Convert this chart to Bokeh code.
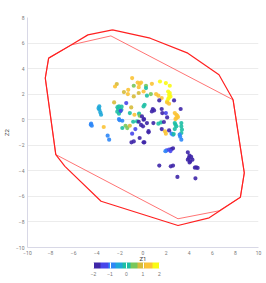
from bokeh.plotting import figure
from bokeh.models import (ColumnDataSource, LinearColorMapper, ColorBar, FixedTicker,
                          Label, Range1d)
from bokeh.embed import file_html
from bokeh.resources import INLINE

# ---------------- data ----------------
x_ticks = [-10, -8, -6, -4, -2, 0, 2, 4, 6, 8, 10]
y_ticks = [-10, -8, -6, -4, -2, 0, 2, 4, 6, 8]
cbar_ticks = [-2, -1, 0, 1, 2]

hull_outer_x = [-2.64, -4.77, -6.19, -8.17, -8.46, -7.55, -6.76, -3.63, 3.03, 5.73, 8.43, 8.77, 7.80, 6.58, 3.88, 0.62, -2.64]
hull_outer_y = [7.03, 6.64, 5.86, 4.82, 3.26, -2.73, -3.65, -6.38, -8.28, -7.68, -6.07, -4.16, 1.56, 3.52, 5.21, 6.38, 7.03]

hull_inner_x = [-6.19, -2.78, 7.80, 8.77, 8.43, 6.58, 3.03, -7.55, -8.46, -8.17, -6.19]
hull_inner_y = [5.86, 6.56, 1.56, -4.16, -6.07, -7.13, -7.75, -2.73, 3.26, 4.82, 5.86]

z1 = [-0.94, -2.27, -2.42, -0.80, -0.46, -0.29, -0.17, 0.26, 0.26, -0.37, 0.77, 1.47, 1.98, 2.32,
      -1.28, -1.65, -1.31, -0.80, 0.05, -0.37, 0.34, 0.68, 1.13, 1.33,
      2.18, 2.26, 2.38, 2.18, 2.09, 2.32, 2.24,
      1.62, 2.09, 2.26, 1.41, 2.69, -2.50, -1.45,
      -2.08, -2.16, -1.99, -2.08, -1.87, -2.21, -1.85, -2.23, -1.93,
      -1.02, -0.74, -1.14, -0.34, -0.29, 0.05, 0.14,
      0.85, 0.96, 0.77, -0.09, 0.05, -0.85, -0.51, -0.37, 0.34, -0.17, 0.00, 0.48,
      0.90, 1.33, 1.56, 1.81, 1.98, 2.09,
      2.75, 2.89, 3.03, 2.89, 2.81, 2.96, 3.26,
      2.75, 2.81, 2.89, 2.75, 3.32, 3.32, 3.37, 3.32,
      3.17, 3.32, 3.22, 2.47, 2.60, 2.66, 1.90, 1.98, 1.62, 2.26,
      -3.78, -3.78, -3.69, -3.63, -3.85, -4.49, -4.43, -4.52, -3.40, -3.06, -2.93,
      -1.51, -1.79, -1.36, -1.14, -0.66, -0.94, -0.29, -1.00, -0.80, 0.05,
      -2.08, -1.79, -2.02,
      2.04, 2.26, 2.47, 2.60, 2.38, 1.94,
      3.88, 4.03, 3.97, 4.17, 3.88, 4.09, 4.03, 4.28,
      4.60, 4.73, 4.49, 1.41, 2.41, 2.60, 2.98, 4.54,
      1.62, 0.09, 0.48, 1.67, 0.12]
z2 = [3.26, 2.79, 2.60, 2.66, 2.91, 2.81, 2.91, 2.66, 2.48, 2.55, 2.81, 2.99, 2.87, 2.66,
      2.34, 2.16, 2.01, 1.82, 2.21, 2.09, 1.88, 2.01, 2.01, 1.88,
      2.21, 1.95, 1.82, 1.62, 1.43, 2.09, 1.72,
      1.70, 1.35, 1.25, 1.51, 1.51, 1.35, 1.30,
      1.04, 0.84, 0.65, 0.47, 0.78, 0.98, 1.02, 0.63, 0.70,
      0.96, 0.39, 0.52, 0.47, 0.31, 1.04, 1.17,
      0.84, 0.73, 0.65, 0.26, 0.00, -0.16, -0.13, -0.16, -0.26, -0.41, -0.52, -0.99,
      -0.26, -0.31, -0.21, -0.18, 0.52, 0.18,
      0.52, 0.39, 0.21, 0.13, 0.05, 0.31, 0.84,
      -0.26, -0.39, -0.52, -0.73, -0.26, -0.52, -0.78, -1.04,
      -1.17, -1.56, -1.33, -1.09, -1.17, -1.12, -0.91, -1.09, -0.73, -0.84,
      1.04, 0.78, 0.57, 0.39, 0.90, -0.31, -0.47, -0.39, -0.57, -1.25, -1.56,
      -0.47, -0.65, -0.65, -0.47, -0.73, -1.09, -1.43, -1.77, -1.70, -1.77,
      0.05, -0.08, -0.04,
      -2.40, -2.34, -2.29, -2.24, -2.45, -2.46,
      -2.55, -2.81, -2.99, -2.91, -3.13, -3.26, -3.34, -3.13,
      -3.73, -3.77, -3.75, -3.59, -3.65, -3.59, -4.48, -4.59,
      0.84, 0.05, -0.90, 0.52, -1.77]
zc = [1.3, 0.8, 1.3, 0.5, 1.3, 1.3, 1.2, 0.5, 0.1, 1.3, 1.4, 1.9, 1.9, 1.9,
      1.3, 0.8, 1.3, 0.8, 1.3, 1.0, 0.0, 0.4, 1.3, 1.3,
      2.0, 2.0, 2.0, 2.0, 2.0, 2.0, 2.0,
      1.4, 1.4, 1.4, -1.9, -1.9, 0.8, -1.5,
      0.0, 0.0, 0.0, 0.0, 0.0, 0.0, 0.0, 0.0, -1.3,
      0.8, 1.3, 0.0, 0.1, 0.5, 0.0, 0.0,
      -1.9, -1.9, -1.9, -1.9, -1.9, 0.0, 0.0, -1.9, -1.9, -1.8, -1.8, -1.9,
      -1.9, 0.0, 0.0, -1.9, -1.2, -1.9,
      1.4, 1.4, 1.4, 1.4, 1.4, 1.4, -1.9,
      0.0, 0.0, 0.0, 0.0, 0.0, 0.0, 0.0, 0.0,
      -1.1, -1.1, -1.1, -1.0, -1.0, 0.2, 1.3, 1.3, -1.9, -1.9,
      -0.6, -0.6, -0.6, -0.6, -0.6, -1.1, -1.1, -1.1, 1.3, -0.9, -0.9,
      0.3, 0.0, 0.5, 0.8, -1.2, -1.2, -1.9, -1.6, -1.6, -1.9,
      -1.1, -1.1, -1.1,
      -1.5, -1.5, -1.6, -1.6, -1.5, -1.0,
      -1.9, -1.9, -1.9, -1.9, -1.9, -1.9, -1.9, -1.9,
      -1.9, -1.9, -1.9, -1.9, -1.9, -1.9, -1.9, -1.9,
      -1.9, -1.9, -1.9, -1.9, -1.9]

# parula-like palette
parula = ["#3e26a8", "#4746eb", "#2e87f7", "#1fa8d9", "#1dbfa4",
          "#7ac75a", "#d6bb3a", "#fbc336", "#f9fb15"]

# ---------------- figure ----------------
p = figure(width=266, height=283, output_backend="svg", toolbar_location=None,
           x_range=Range1d(-10, 10), y_range=Range1d(-10, 8),
           min_border_left=23, min_border_right=8, min_border_top=17, min_border_bottom=36)
p.outline_line_color = None
p.background_fill_color = "white"

for ax in (p.xaxis[0], p.yaxis[0]):
    ax.major_label_text_font_size = "5px"
    ax.major_label_text_color = "#777777"
    ax.axis_label_text_font_size = "6px"
    ax.axis_label_text_font_style = "normal"
    ax.axis_label_text_color = "#444444"
    ax.axis_line_color = "#d8d8e6"
    ax.major_tick_line_color = None
    ax.minor_tick_line_color = None
    ax.major_tick_out = 0
    ax.major_tick_in = 0
    ax.minor_tick_out = 0
    ax.minor_tick_in = 0
    ax.major_label_text_font = "Roboto"
    ax.axis_label_text_font = "Roboto"

p.xaxis.ticker = FixedTicker(ticks=x_ticks)
p.yaxis.ticker = FixedTicker(ticks=y_ticks)
p.xaxis.axis_label = "Z1"
p.yaxis.axis_label = "Z2"
p.yaxis.major_label_orientation = "horizontal"
p.yaxis.major_label_standoff = 3
p.yaxis.axis_label_standoff = 3
p.xaxis.major_label_standoff = 3
p.xaxis.axis_label_standoff = -3
p.xgrid.grid_line_color = None
p.ygrid.grid_line_color = "#ececec"
p.ygrid.grid_line_width = 1

p.line(hull_inner_x, hull_inner_y, line_color="#ff3030", line_width=0.9, line_alpha=0.75)
p.line(hull_outer_x, hull_outer_y, line_color="#ff2020", line_width=1.2)

mapper = LinearColorMapper(palette=parula, low=-2, high=2)
src = ColumnDataSource(dict(x=z1, y=z2, c=zc))
p.scatter("x", "y", source=src, size=4.2, line_color=None,
          fill_color={"field": "c", "transform": mapper}, fill_alpha=0.9)

cb = ColorBar(color_mapper=mapper, orientation="horizontal", width=66, height=6,
              ticker=FixedTicker(ticks=cbar_ticks), major_label_text_font_size="5px",
              major_label_text_color="#777777", major_tick_line_color="white",
              major_tick_in=6, major_tick_out=0, bar_line_color=None,
              padding=0, label_standoff=3, location=(66, -31),
              background_fill_color=None, border_line_color=None)
p.add_layout(cb, "center")

title = Label(x=107, y=245, x_units="screen", y_units="screen",
              text="Scores on Z1 and Z2 with hulls", text_font_size="5px",
              text_color="#bbbbbb", text_align="center", text_baseline="top",
              text_font="Roboto")
p.add_layout(title)

open("out.html", "w").write(file_html(p, INLINE))
